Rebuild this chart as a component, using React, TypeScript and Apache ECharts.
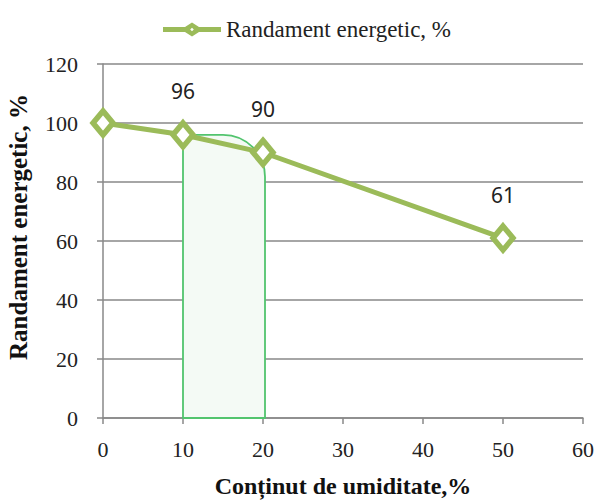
import React, { useEffect, useRef } from "react";
import * as echarts from "echarts";

const seriesName = "Randament energetic, %";
const xValues = [0, 10, 20, 50];
const yValues = [100, 96, 90, 61];
const showLabel = [false, true, true, true];
const shadeRange = [10, 20];
const shadeTop = 96;
const xTitle = "Conținut de umiditate,%";
const yTitle = "Randament energetic, %";

export default function App() {
  const ref = useRef<HTMLDivElement>(null);
  useEffect(() => {
    if (!ref.current) return;
    const chart = echarts.init(ref.current, null, { renderer: "svg" });
    const serif = "Liberation Serif";
    const green = "#9BBB59";
    chart.setOption({
      animation: false,
      backgroundColor: "#ffffff",
      textStyle: { fontFamily: serif },
      grid: { left: 103, right: 13, top: 64, bottom: 82, containLabel: false, outerBoundsMode: "none" },
      legend: {
        top: 13,
        left: 158,
        itemWidth: 58,
        itemHeight: 14,
        itemGap: 6,
        textStyle: { fontFamily: serif, fontSize: 23, color: "#222" },
        data: [
          {
            name: seriesName,
            icon: "path://M0,4.5 L22,4.5 L29,0 L36,4.5 L58,4.5 L58,9.5 L36,9.5 L29,14 L22,9.5 L0,9.5 Z M29,5.2 L27.2,7 L29,8.8 L30.8,7 Z",
            itemStyle: { color: green, borderWidth: 0 },
          },
        ],
      },
      xAxis: {
        type: "value",
        min: 0,
        max: 60,
        interval: 10,
        name: xTitle,
        nameLocation: "middle",
        nameGap: 56,
        nameTextStyle: { fontFamily: serif, fontSize: 24, fontWeight: "bold", color: "#111" },
        axisLine: { show: true, lineStyle: { color: "#888", width: 1.5 } },
        axisTick: { show: true, length: 6, lineStyle: { color: "#888", width: 1.5 } },
        axisLabel: { fontFamily: serif, fontSize: 22, color: "#222", margin: 20 },
        splitLine: { show: false },
      },
      yAxis: {
        type: "value",
        min: 0,
        max: 120,
        interval: 20,
        name: yTitle,
        nameLocation: "middle",
        nameGap: 72,
        nameRotate: 90,
        nameTextStyle: { fontFamily: serif, fontSize: 25, fontWeight: "bold", color: "#111", padding: [0, 0, 0, 28] },
        axisLine: { show: true, lineStyle: { color: "#888", width: 1.5 } },
        axisTick: { show: true, length: 6, lineStyle: { color: "#888", width: 1.5 } },
        axisLabel: { fontFamily: serif, fontSize: 22, color: "#222", margin: 25 },
        splitLine: { show: true, lineStyle: { color: "#888", width: 1.5 } },
      },
      series: [
        {
          type: "custom",
          silent: true,
          z: 1,
          data: [[shadeRange[0], shadeRange[1], shadeTop]],
          renderItem: (params: any, api: any) => {
            const p0 = api.coord([api.value(0), 0]);
            const p1 = api.coord([api.value(1), api.value(2)]);
            const x = p0[0];
            const y = p1[1];
            const w = p1[0] - p0[0] + 2;
            const h = p0[1] - p1[1];
            return {
              type: "rect",
              shape: { x, y, width: w, height: h, r: [0, 42, 0, 0] },
              style: { fill: "#F4FAF5", stroke: "#52C46E", lineWidth: 1.8 },
            };
          },
        },
        {
          name: seriesName,
          type: "line",
          z: 3,
          data: xValues.map((x, i) => ({
            value: [x, yValues[i]],
            label: { show: showLabel[i] },
          })),
          symbol: "diamond",
          symbolSize: [20, 24],
          showAllSymbol: true,
          lineStyle: { color: green, width: 5 },
          itemStyle: { color: "#ffffff", borderColor: green, borderWidth: 5.5 },
          label: {
            position: "top",
            distance: 18,
            fontFamily: "Noto Sans",
            fontSize: 21,
            color: "#222",
          },
        },
      ],
    });
    return () => chart.dispose();
  }, []);
  return <div ref={ref} style={{ width: 596, height: 500, position: "absolute", left: 0, top: 0 }} />;
}
